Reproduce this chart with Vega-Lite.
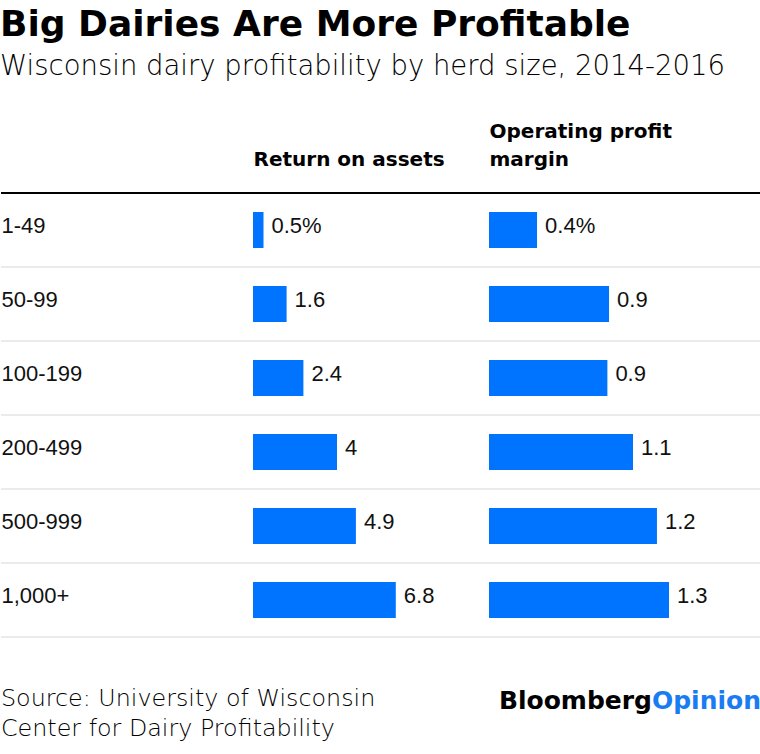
{
  "$schema": "https://vega.github.io/schema/vega-lite/v6.json",
  "background": "white",
  "padding": {"top": 6, "left": 0, "right": 0, "bottom": 0},
  "title": {
    "text": "Big Dairies Are More Profitable",
    "subtitle": "Wisconsin dairy profitability by herd size, 2014-2016",
    "anchor": "start",
    "font": "DejaVu Sans",
    "fontSize": 36,
    "fontWeight": "bold",
    "color": "#000000",
    "subtitleFont": "DejaVu Sans",
    "subtitleFontSize": 27.5,
    "subtitleFontWeight": 300,
    "subtitleColor": "#000000",
    "subtitlePadding": 9,
    "offset": 40
  },
  "bounds": "flush",
  "spacing": 59,
  "vconcat": [
    {
      "width": 760,
      "height": 444,
      "data": {
        "values": [
          {"herd": "1-49", "roa": 0.5, "roa_label": "0.5%", "opm": 0.347, "opm_label": "0.4%"},
          {"herd": "50-99", "roa": 1.6, "roa_label": "1.6", "opm": 0.867, "opm_label": "0.9"},
          {"herd": "100-199", "roa": 2.4, "roa_label": "2.4", "opm": 0.855, "opm_label": "0.9"},
          {"herd": "200-499", "roa": 4.0, "roa_label": "4", "opm": 1.04, "opm_label": "1.1"},
          {"herd": "500-999", "roa": 4.9, "roa_label": "4.9", "opm": 1.213, "opm_label": "1.2"},
          {"herd": "1,000+", "roa": 6.8, "roa_label": "6.8", "opm": 1.3, "opm_label": "1.3"}
        ]
      },
      "layer": [
        {
          "mark": {"type": "rule", "stroke": "#ebebeb", "strokeWidth": 2},
          "encoding": {
            "y": {
              "field": "herd",
              "type": "nominal",
              "bandPosition": 1,
              "title": null,
              "sort": null,
              "scale": {
                "domain": ["1-49", "50-99", "100-199", "200-499", "500-999", "1,000+"],
                "paddingInner": 0,
                "paddingOuter": 0
              },
              "axis": {
                "orient": "left",
                "title": null,
                "domain": false,
                "ticks": false,
                "tickSize": 0,
                "grid": false,
                "labelAlign": "left",
                "labelBaseline": "alphabetic",
                "labelOffset": 3,
                "labelPadding": 0,
                "labelFont": "Liberation Sans",
                "labelFontSize": 22,
                "labelColor": "#111111",
                "labelLimit": 300
              }
            }
          }
        },
        {
          "transform": [{"filter": "datum.herd === '1-49'"}],
          "mark": {"type": "rule", "stroke": "#000000", "strokeWidth": 2},
          "encoding": {
            "y": {"field": "herd", "type": "nominal", "bandPosition": 0, "title": null, "sort": null}
          }
        },
        {
          "encoding": {
            "x": {
              "field": "roa",
              "type": "quantitative",
              "scale": {"domain": [0, 6.8], "range": [252, 394.8], "nice": false, "zero": true},
              "axis": {
                "orient": "top",
                "labels": false,
                "ticks": false,
                "domain": false,
                "grid": false,
                "title": "Return on assets",
                "titleAnchor": "start",
                "titleAlign": "left",
                "titleBaseline": "alphabetic",
                "titleY": -28,
                "titleFont": "DejaVu Sans",
                "titleFontSize": 20,
                "titleFontWeight": "bold",
                "titleColor": "#000000"
              }
            },
            "y": {"field": "herd", "type": "nominal", "title": null, "sort": null}
          },
          "layer": [
            {"mark": {"type": "bar", "color": "#0073ff", "height": 36}},
            {
              "mark": {
                "type": "text",
                "align": "left",
                "baseline": "alphabetic",
                "dx": 8,
                "dy": 3,
                "font": "Liberation Sans",
                "fontSize": 22,
                "color": "#111111"
              },
              "encoding": {"text": {"field": "roa_label"}}
            }
          ]
        },
        {
          "encoding": {
            "x": {
              "field": "opm",
              "type": "quantitative",
              "scale": {"domain": [0, 1.3], "range": [488, 668], "nice": false, "zero": true},
              "axis": {
                "orient": "top",
                "labels": false,
                "ticks": false,
                "domain": false,
                "grid": false,
                "title": ["Operating profit", "margin"],
                "titleAnchor": "start",
                "titleAlign": "left",
                "titleBaseline": "alphabetic",
                "titleLineHeight": 28,
                "titleY": -56,
                "titleFont": "DejaVu Sans",
                "titleFontSize": 20,
                "titleFontWeight": "bold",
                "titleColor": "#000000"
              }
            },
            "y": {"field": "herd", "type": "nominal", "title": null, "sort": null}
          },
          "layer": [
            {"mark": {"type": "bar", "color": "#0073ff", "height": 36}},
            {
              "mark": {
                "type": "text",
                "align": "left",
                "baseline": "alphabetic",
                "dx": 8,
                "dy": 3,
                "font": "Liberation Sans",
                "fontSize": 22,
                "color": "#111111"
              },
              "encoding": {"text": {"field": "opm_label"}}
            }
          ]
        }
      ],
      "resolve": {"scale": {"x": "independent"}, "axis": {"x": "independent"}}
    },
    {
      "width": 760,
      "height": 20,
      "data": {
        "values": [
          {"block": "source", "part": "source", "text": "Source: University of Wisconsin\nCenter for Dairy Profitability"},
          {"block": "logo", "part": "Bloomberg", "text": "Bloomberg"},
          {"block": "logo", "part": "Opinion", "text": "Opinion"}
        ]
      },
      "encoding": {
        "x": {
          "field": "block",
          "type": "nominal",
          "scale": {"type": "point", "domain": ["source", "logo"], "padding": 0},
          "axis": null
        },
        "text": {"field": "text"}
      },
      "layer": [
        {
          "transform": [{"filter": "datum.part === 'source'"}],
          "mark": {
            "type": "text",
            "align": "left",
            "baseline": "alphabetic",
            "lineBreak": "\n",
            "lineHeight": 30,
            "font": "DejaVu Sans",
            "fontSize": 23.8,
            "fontWeight": 300,
            "color": "#000000"
          }
        },
        {
          "transform": [{"filter": "datum.part === 'Bloomberg'"}],
          "mark": {
            "type": "text",
            "align": "right",
            "baseline": "alphabetic",
            "dx": -109,
            "dy": 2.5,
            "font": "DejaVu Sans",
            "fontSize": 25,
            "fontWeight": "bold",
            "color": "#000000"
          }
        },
        {
          "transform": [{"filter": "datum.part === 'Opinion'"}],
          "mark": {
            "type": "text",
            "align": "right",
            "baseline": "alphabetic",
            "dy": 2.5,
            "font": "DejaVu Sans",
            "fontSize": 25,
            "fontWeight": "bold",
            "color": "#1a7cf2"
          }
        }
      ]
    }
  ],
  "config": {
    "view": {"stroke": null},
    "font": "DejaVu Sans"
  }
}
